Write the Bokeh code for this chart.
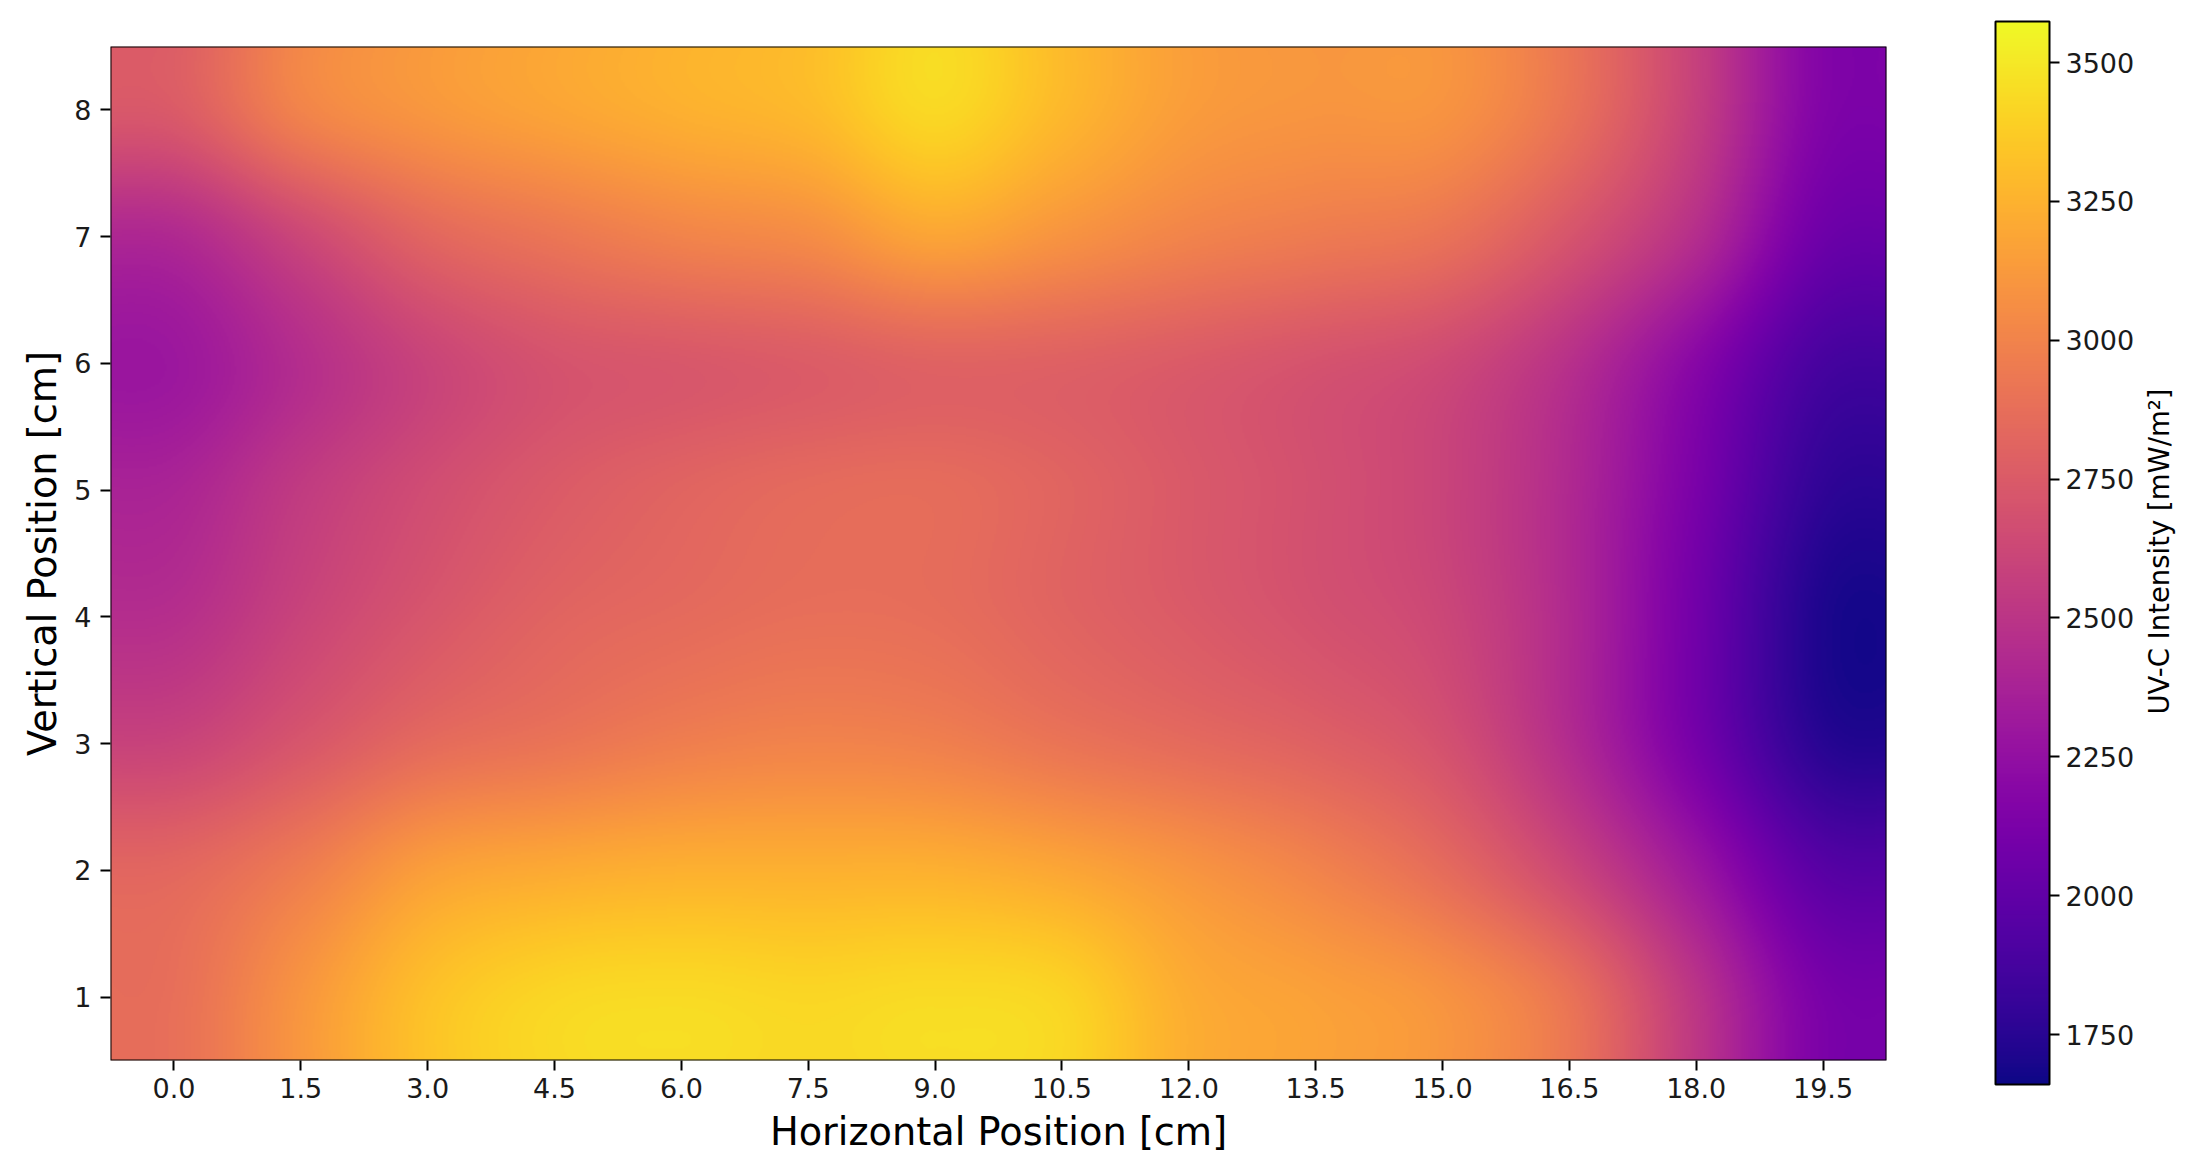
import numpy as np
from bokeh.embed import file_html
from bokeh.resources import INLINE
from bokeh.models import BoxAnnotation, ColorBar, FixedTicker, Label, LinearColorMapper, Range1d, NumeralTickFormatter
from bokeh.palettes import Plasma256
from bokeh.plotting import figure

x_positions = [0.0, 1.5, 3.0, 4.5, 6.0, 7.5, 9.0, 10.5, 12.0, 13.5, 15.0, 16.5, 18.0, 19.5]
y_positions = [1, 2, 3, 4, 5, 6, 7, 8]
row_y1 = [2880, 3100, 3320, 3420, 3440, 3420, 3440, 3410, 3220, 3160, 3090, 2900, 2500, 2120]
row_y2 = [2830, 2960, 3150, 3210, 3240, 3240, 3240, 3190, 3100, 3000, 2860, 2620, 2300, 1960]
row_y3 = [2600, 2720, 2850, 2910, 2970, 3000, 2980, 2910, 2850, 2790, 2690, 2440, 2100, 1750]
row_y4 = [2460, 2600, 2720, 2810, 2850, 2880, 2870, 2810, 2750, 2690, 2620, 2420, 2080, 1710]
row_y5 = [2390, 2540, 2660, 2750, 2810, 2850, 2860, 2810, 2740, 2680, 2600, 2420, 2120, 1780]
row_y6 = [2300, 2450, 2600, 2700, 2730, 2760, 2800, 2790, 2750, 2700, 2640, 2470, 2190, 1880]
row_y7 = [2420, 2620, 2820, 2920, 3000, 3050, 3180, 3090, 3000, 2950, 2900, 2710, 2450, 2060]
row_y8 = [2750, 3000, 3110, 3180, 3240, 3290, 3430, 3280, 3140, 3100, 3090, 2900, 2570, 2160]
value_min = 1660
value_max = 3574
colorbar_ticks = [1750, 2000, 2250, 2500, 2750, 3000, 3250, 3500]
x_label = "Horizontal Position [cm]"
y_label = "Vertical Position [cm]"
colorbar_label = "UV-C Intensity [mW/m²]"

grid = np.array([row_y1, row_y2, row_y3, row_y4, row_y5, row_y6, row_y7, row_y8], dtype=float)


def bicubic(a, out_h, out_w):
    """Same smoothing as an imshow(interpolation='bicubic') display."""
    def kernel(t):
        t = np.abs(t)
        return np.where(t <= 1, 1.5*t**3 - 2.5*t**2 + 1,
                        np.where(t < 2, -0.5*t**3 + 2.5*t**2 - 4*t + 2, 0.0))

    def resample(m, n, axis):
        size = m.shape[axis]
        pos = (np.arange(n) + 0.5) * size / n - 0.5
        base = np.floor(pos).astype(int)
        out = 0
        for k in range(-1, 3):
            idx = np.clip(base + k, 0, size - 1)
            w = kernel(pos - (base + k))
            shape = [1, 1]
            shape[axis] = n
            out = out + np.take(m, idx, axis=axis) * w.reshape(shape)
        return out

    return resample(resample(a, out_h, 0), out_w, 1)


smooth = bicubic(grid, 507, 888).astype(np.float32)
mapper = LinearColorMapper(palette=Plasma256, low=value_min, high=value_max)

x0, x1 = x_positions[0] - 0.75, x_positions[-1] + 0.75
y0, y1 = y_positions[0] - 0.5, y_positions[-1] + 0.5
FONT = "DejaVu Sans"
TICK_COLOR = "#1a1a1a"
FRAME_W, FRAME_H = 1776, 1014

p = figure(width=2190, height=1160, output_backend="svg", toolbar_location=None,
           x_range=Range1d(x0, x1), y_range=Range1d(y0, y1),
           frame_width=FRAME_W, frame_height=FRAME_H,
           min_border_left=110, min_border_top=46, min_border_right=304, min_border_bottom=100)
p.image(image=[smooth], x=x0, y=y0, dw=x1 - x0, dh=y1 - y0, color_mapper=mapper)
p.grid.visible = False
p.outline_line_color = None
p.xaxis.ticker = FixedTicker(ticks=x_positions)
p.xaxis.formatter = NumeralTickFormatter(format="0.0")
p.yaxis.ticker = FixedTicker(ticks=y_positions)
p.xaxis.axis_label = x_label
p.yaxis.axis_label = y_label
for ax in (p.xaxis[0], p.yaxis[0]):
    ax.axis_label_text_font = FONT
    ax.axis_label_text_font_style = "normal"
    ax.axis_label_text_font_size = "38.3px"
    ax.axis_label_text_color = "#000000"
    ax.major_label_text_font = FONT
    ax.major_label_text_font_size = "27px"
    ax.major_label_text_color = TICK_COLOR
    ax.major_tick_out = 10
    ax.major_tick_in = 0
    ax.major_tick_line_width = 2
    ax.major_tick_line_color = "#000000"
    ax.minor_tick_line_color = None
    ax.axis_line_color = None
p.xaxis[0].major_label_standoff = 7
p.xaxis[0].axis_label_standoff = 8
p.yaxis[0].major_label_standoff = 9
p.yaxis[0].axis_label_standoff = 6
p.yaxis[0].major_label_orientation = "horizontal"
p.add_layout(BoxAnnotation(left=x0, right=x1, bottom=y0, top=y1, fill_color=None,
                           line_color="#000000", line_alpha=1.0, line_width=2, level="overlay"))

cb = ColorBar(color_mapper=mapper, ticker=FixedTicker(ticks=colorbar_ticks),
              location=(1885, -24), width=54, height=1063, padding=0, margin=0,
              major_label_text_font=FONT, major_label_text_font_size="27px",
              major_label_text_color=TICK_COLOR, label_standoff=6,
              major_tick_out=10, major_tick_in=0, major_tick_line_color="#000000",
              major_tick_line_width=2, minor_tick_line_color=None,
              bar_line_color="#000000", bar_line_width=2, border_line_color=None,
              background_fill_color=None)
p.add_layout(cb, "center")

# A label in a side panel is not clipped to the frame; its place is given in the
# plot's own data units, 272 px to the right of the frame and 6 px above its middle.
label_x = x1 + 272 * (x1 - x0) / FRAME_W
label_y = (y0 + y1) / 2 + 2 * (y1 - y0) / FRAME_H
p.add_layout(Label(x=label_x, y=label_y, text=colorbar_label, angle=np.pi / 2,
                   text_align="center", text_baseline="middle", text_font=FONT,
                   text_font_size="27.5px", text_color="#000000"), "right")

open("out.html", "w").write(file_html(p, INLINE))
